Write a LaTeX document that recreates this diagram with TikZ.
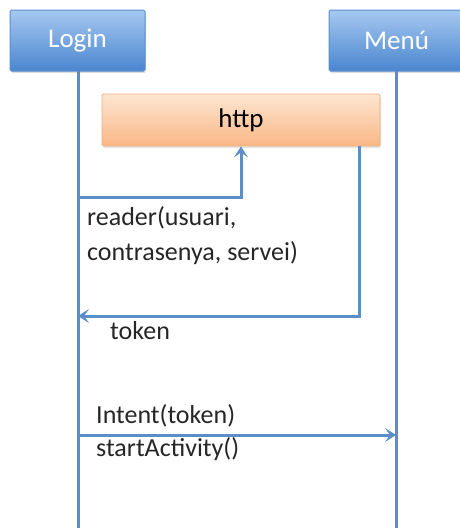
\documentclass[tikz,border=0pt]{standalone}
\usepackage{fontspec}
\setmainfont{Carlito}
\usetikzlibrary{arrows.meta,shadows}
\definecolor{lifeblue}{HTML}{5B8DC8}
\definecolor{boxtop}{HTML}{A6C8F0}
\definecolor{boxbot}{HTML}{4A86D0}
\definecolor{boxedge}{HTML}{5A8FD0}
\definecolor{httptop}{HTML}{FDE6D2}
\definecolor{httpbot}{HTML}{FAB784}
\definecolor{httpedge}{HTML}{F3B07C}
\tikzset{
  actor/.style={draw=boxedge, line width=1pt, rounded corners=1.5pt, top color=boxtop, bottom color=boxbot,
    minimum width=135pt, minimum height=61pt, text=white, font=\fontsize{27}{30}\selectfont,
    drop shadow={shadow xshift=1pt, shadow yshift=-2pt, opacity=0.25}},
  service/.style={draw=httpedge, line width=0.8pt, rounded corners=1.5pt, top color=httptop, bottom color=httpbot,
    minimum width=278pt, minimum height=52pt, font=\fontsize{27}{30}\selectfont,
    drop shadow={shadow xshift=1pt, shadow yshift=-2pt, opacity=0.2}},
  lifeline/.style={draw=lifeblue, line width=3pt},
  msg/.style={draw=lifeblue, line width=3pt, -{Stealth[length=11pt,width=14pt,inset=5pt]}},
  label/.style={anchor=west, inner sep=0pt, font=\fontsize{26}{30}\selectfont, text=black!85}
}
\begin{document}
\begin{tikzpicture}[x=1pt,y=-1pt]
\useasboundingbox (0,0) rectangle (459,528);
% lifelines
\coordinate (lbot) at (78,528);
\coordinate (mbot) at (396,528);
\draw[lifeline] (78,71) -- (lbot);
\draw[lifeline] (396,71) -- (mbot);
% actor boxes
\node[actor] (login) at (77.5,40.5) {Login};
\node[actor] (menu) at (396.5,40.5) {Menú};
% http service
\node[service] (http) at (241,120) {http};
% request to http
\coordinate (req) at (78,197);
\draw[msg] (req) -| (http.south);
% response back to login
\coordinate (resA) at ([xshift=118pt]http.south);
\coordinate (resB) at (78,316);
\draw[msg] (resA) |- (resB);
% startActivity
\coordinate (st) at (78,435);
\coordinate (en) at (396,435);
\draw[msg] (st) -- (en);
% labels
\node[label] (l1) at (87,218) {reader(usuari,};
\node[label] (l2) at (87,253) {contrasenya, servei)};
\node[label] (l3) at (110,331) {token};
\node[label] (l4) at (96,416) {Intent(token)};
\node[label] (l5) at (96,449) {startActivity()};
\end{tikzpicture}
\end{document}
